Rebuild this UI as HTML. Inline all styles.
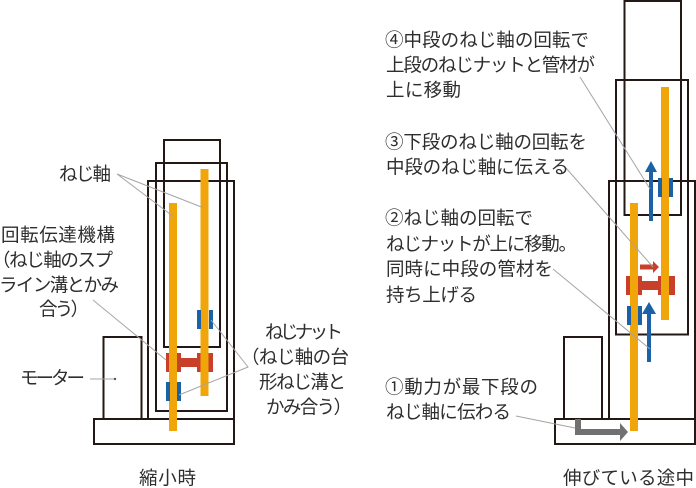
<!DOCTYPE html>
<html><head><meta charset="utf-8"><style>
html,body{margin:0;padding:0;background:#fff}
svg{display:block}
text{font-family:"Liberation Sans","Noto Sans CJK JP",sans-serif;font-size:18.5px;fill:#2e2e2e;dominant-baseline:central}
</style></head><body>
<svg width="696" height="488" viewBox="0 0 696 488" xmlns="http://www.w3.org/2000/svg">
<g fill="none" stroke="#231815" stroke-width="2">
<rect x="164" y="140" width="56" height="207"/>
<rect x="156" y="163" width="71" height="248"/>
<rect x="148" y="181" width="86" height="238"/>
<rect x="103.500" y="337" width="38" height="82"/>
<rect x="94" y="419" width="140" height="25"/>
<rect x="624.500" y="1" width="56.500" height="214"/>
<rect x="616" y="80" width="72" height="254.500"/>
<rect x="609" y="181" width="86" height="238"/>
<rect x="564" y="337" width="38" height="82"/>
<rect x="555" y="419" width="140" height="25"/>
</g>
<g fill="#c8402a">
<rect x="166" y="353" width="15" height="19"/><rect x="197" y="353" width="16" height="19"/><rect x="181" y="358" width="16" height="9"/>
<rect x="626" y="276" width="16" height="19"/><rect x="658" y="276" width="17" height="19"/><rect x="642" y="281" width="16" height="9"/>
</g>
<g fill="#f0a50a">
<rect x="169" y="203" width="8" height="228"/><rect x="200.500" y="169" width="8" height="227"/>
<rect x="630" y="203" width="8" height="228"/><rect x="661" y="87" width="8" height="233"/>
</g>
<g fill="#1a62a5">
<rect x="166" y="382" width="4" height="19"/><rect x="177" y="382" width="4" height="19"/>
<rect x="197" y="310" width="4" height="19"/><rect x="209" y="310" width="4" height="19"/>
<rect x="627" y="306" width="4" height="19"/><rect x="638" y="306" width="4" height="19"/>
<rect x="658" y="178" width="4" height="19"/><rect x="669" y="178" width="4" height="19"/>
<path d="M649 221V172H645L651 161L657 172H653V221Z"/>
<path d="M647 362V314H642L649 302L656 314H651V362Z"/>
</g>
<path d="M640 264.500H653V261L659 267L653 273V269.500H640Z" fill="#c8402a"/>
<path d="M575 419H581V429H620V423L628 432L620 441V435H575Z" fill="#717171"/>
<g fill="none" stroke="#a5a5a5" stroke-width="1">
<path d="M174 217L117 174L204 208"/>
<path d="M93 300L166 360"/>
<path d="M211 320L248 367L179 395"/>
<path d="M90 379H115"/>
<path d="M580 77L650 189"/>
<path d="M566 168L653 267"/>
<path d="M553 269L650 349"/>
<path d="M516 416L575 428"/>
</g>
<circle cx="115" cy="379" r="1.200" fill="#555"/>
<g>
<text x="59" y="174" textLength="52" lengthAdjust="spacing">ねじ軸</text>
<text x="1" y="235" textLength="114" lengthAdjust="spacing">回転伝達機構</text>
<text x="-8" y="260" textLength="121" lengthAdjust="spacing">（ねじ軸のスプ</text>
<text x="-1" y="285" textLength="120" lengthAdjust="spacing">ライン溝とかみ</text>
<text x="39" y="309" textLength="50" lengthAdjust="spacing">合う）</text>
<text x="20" y="378" textLength="65" lengthAdjust="spacing">モーター</text>
<text x="265" y="332" textLength="78" lengthAdjust="spacing">ねじナット</text>
<text x="241" y="357" textLength="108" lengthAdjust="spacing">（ねじ軸の台</text>
<text x="259" y="382" textLength="87" lengthAdjust="spacing">形ねじ溝と</text>
<text x="266" y="407" textLength="86" lengthAdjust="spacing">かみ合う）</text>
<text x="139" y="478" textLength="57" lengthAdjust="spacing">縮小時</text>
<text x="385" y="40" textLength="204" lengthAdjust="spacing">④中段のねじ軸の回転で</text>
<text x="386" y="65" textLength="209" lengthAdjust="spacing">上段のねじナットと管材が</text>
<text x="386" y="90" textLength="75" lengthAdjust="spacing">上に移動</text>
<text x="385" y="142" textLength="202" lengthAdjust="spacing">③下段のねじ軸の回転を</text>
<text x="386" y="167" textLength="183" lengthAdjust="spacing">中段のねじ軸に伝える</text>
<text x="385" y="218" textLength="148" lengthAdjust="spacing">②ねじ軸の回転で</text>
<text x="386" y="244" textLength="191" lengthAdjust="spacing">ねじナットが上に移動。</text>
<text x="386" y="269" textLength="167" lengthAdjust="spacing">同時に中段の管材を</text>
<text x="386" y="295" textLength="91" lengthAdjust="spacing">持ち上げる</text>
<text x="385" y="387" textLength="153" lengthAdjust="spacing">①動力が最下段の</text>
<text x="386" y="412" textLength="125" lengthAdjust="spacing">ねじ軸に伝わる</text>
<text x="563" y="478" textLength="131" lengthAdjust="spacing">伸びている途中</text>
</g>
</svg>
</body></html>
